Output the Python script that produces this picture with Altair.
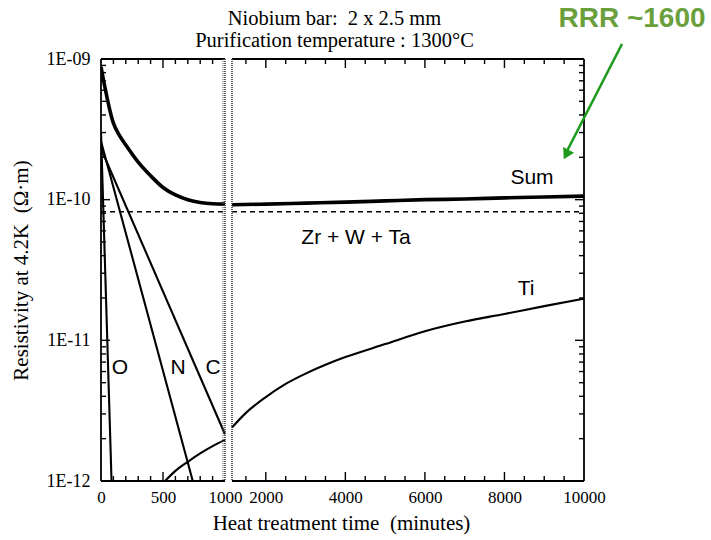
import altair as alt
import pandas as pd

# ---------------- data ----------------
sum_left_x = [0, 100, 150, 200, 300, 400, 500, 600, 700, 800, 900, 1000]
sum_left_y = [8.8e-10, 3.5e-10, 2.85e-10, 2.45e-10, 1.85e-10, 1.48e-10, 1.22e-10,
              1.08e-10, 1.0e-10, 9.55e-11, 9.35e-11, 9.3e-11]
sum_right_x = [1150, 2000, 3000, 4000, 5000, 6000, 7000, 8000, 9000, 10000]
sum_right_y = [9.2e-11, 9.3e-11, 9.45e-11, 9.6e-11, 9.8e-11, 1.0e-10, 1.01e-10,
               1.03e-10, 1.045e-10, 1.06e-10]

zr_left_x = [0, 1000]
zr_right_x = [1150, 10000]
zr_level = 8.2e-11

o_x = [0, 85]
o_y = [3.0e-10, 1e-12]
n_x = [0, 740]
n_y = [2.6e-10, 1e-12]
c_x = [0, 1000]
c_y = [2.3e-10, 2.15e-12]

ti_left_x = [516, 600, 700, 800, 900, 1000]
ti_left_y = [1e-12, 1.18e-12, 1.37e-12, 1.57e-12, 1.77e-12, 1.96e-12]
ti_right_x = [1150, 1500, 2000, 2500, 3000, 3500, 4000, 5000, 6000, 7000, 8000, 9000, 10000]
ti_right_y = [2.4e-12, 3.05e-12, 3.95e-12, 4.9e-12, 5.8e-12, 6.7e-12, 7.6e-12, 9.4e-12,
              1.16e-11, 1.36e-11, 1.54e-11, 1.75e-11, 1.98e-11]

x_label_values = [0, 500, 1000, 2000, 4000, 6000, 8000, 10000]
y_label_values = [1e-12, 1e-11, 1e-10, 1e-9]
y_label_texts = ["1E-12", "1E-11", "1E-10", "1E-09"]

x_minor_ticks = [100, 200, 300, 400, 600, 700, 800, 900,
                 1500, 2500, 3000, 3500, 4500, 5000, 5500, 6500, 7000, 7500,
                 8500, 9000, 9500]
x_major_ticks = [500, 2000, 4000, 6000, 8000]
y_major_ticks = [1e-11, 1e-10]
y_minor_ticks = [m * d for d in (1e-12, 1e-11, 1e-10) for m in (2, 3, 4, 5, 6, 7, 8, 9)]

title_lines = ["Niobium bar:\u00a0\u00a02 x 2.5 mm", "Purification temperature : 1300°C"]
x_title = "Heat treatment time\u00a0\u00a0(minutes)"
y_title = "Resistivity at 4.2K\u00a0\u00a0(Ω·m)"

# ---------------- build tables ----------------
rows = []
def add(series, seg, xs, ys):
    for a, b in zip(xs, ys):
        rows.append({"series": series, "seg": seg, "x": a, "y": b})

add("Sum", "Sum-L", sum_left_x, sum_left_y)
add("Sum", "Sum-R", sum_right_x, sum_right_y)
add("Zr", "Zr-L", zr_left_x, [zr_level] * len(zr_left_x))
add("Zr", "Zr-R", zr_right_x, [zr_level] * len(zr_right_x))
add("O", "O", o_x, o_y)
add("N", "N", n_x, n_y)
add("C", "C", c_x, c_y)
add("Ti", "Ti-L", ti_left_x, ti_left_y)
add("Ti", "Ti-R", ti_right_x, ti_right_y)
df = pd.DataFrame(rows)

W, H = 483, 422
GAP_L, GAP_R = 124, 131
SERIF = "Liberation Serif"
SANS = "Liberation Sans"

x_scale = alt.Scale(domain=[0, 1000, 1150, 10000], range=[0, GAP_L, GAP_R, W],
                    nice=False, zero=False)
y_scale = alt.Scale(type="log", domain=[1e-12, 1e-9], nice=False)

label_expr = ""
for v, t in zip(y_label_values[:-1], y_label_texts[:-1]):
    label_expr += f"datum.value < {v * 5:g} ? '{t}' : "
label_expr += f"'{y_label_texts[-1]}'"

x_axis = alt.Axis(values=x_label_values, format="d", ticks=False, domain=False, grid=False,
                  labelFont=SERIF, labelFontSize=17, labelColor="black",
                  labelPadding=8, labelOverlap=False, labelFlush=False,
                  title=x_title, titleFont=SERIF, titleFontSize=21,
                  titleFontWeight="normal", titleColor="black",
                  titleX=240, titleY=48, titleBaseline="alphabetic", titleAlign="center")
y_axis = alt.Axis(values=y_label_values, ticks=False, domain=False, grid=False,
                  labelExpr=label_expr, labelFont=SERIF, labelFontSize=18,
                  labelColor="black", labelPadding=11, labelFlush=False,
                  labelOverlap=False,
                  title=y_title, titleFont=SERIF, titleFontSize=21,
                  titleFontWeight="normal", titleColor="black",
                  titleX=-74, titleY=211, titleBaseline="alphabetic",
                  titleAlign="center", titleAngle=270)

base = alt.Chart(df)
X = alt.X("x:Q", scale=x_scale, axis=x_axis)
Y = alt.Y("y:Q", scale=y_scale, axis=y_axis)

sum_line = base.transform_filter(alt.datum.series == "Sum").mark_line(
    color="black", strokeWidth=3.6, clip=True, interpolate="monotone").encode(
    x=X, y=Y, detail="seg:N")
zr_line = base.transform_filter(alt.datum.series == "Zr").mark_line(
    color="black", strokeWidth=1.5, strokeDash=[5, 4], clip=True).encode(
    x=X, y=Y, detail="seg:N")
straight_lines = base.transform_filter(
    alt.FieldOneOfPredicate(field="series", oneOf=["O", "N", "C"])).mark_line(
    color="black", strokeWidth=2.1, clip=True).encode(x=X, y=Y, detail="seg:N")
ti_line = base.transform_filter(alt.datum.series == "Ti").mark_line(
    color="black", strokeWidth=2.1, clip=True, interpolate="monotone").encode(
    x=X, y=Y, detail="seg:N")

one = pd.DataFrame({"k": [0]})

def rule(**kw):
    sw = kw.pop("sw", 1.6)
    dash = kw.pop("dash", None)
    color = kw.pop("color", "black")
    mk = {"color": color, "strokeWidth": sw}
    if dash:
        mk["strokeDash"] = dash
    enc = {k: alt.value(v) for k, v in kw.items()}
    return alt.Chart(one).mark_rule(**mk).encode(**enc)

frame = [
    rule(x=0, y=0, y2=H, sw=1.8),
    rule(x=W, y=0, y2=H, sw=1.8),
    rule(x=0, x2=GAP_L, y=0, sw=1.8),
    rule(x=GAP_R, x2=W, y=0, sw=1.8),
    rule(x=0, x2=GAP_L, y=H, sw=1.8),
    rule(x=GAP_R, x2=W, y=H, sw=1.8),
    rule(x=GAP_L, y=0, y2=H, sw=1.6, dash=[1, 1], color="#333333"),
    rule(x=GAP_L - 2, y=0, y2=H, sw=1.0, dash=[1, 1], color="#555555"),
    rule(x=GAP_R, y=0, y2=H, sw=1.6, dash=[1, 1], color="#333333"),
]

def xticks(vals, length):
    d = pd.DataFrame({"x": vals})
    bottom = alt.Chart(d).mark_rule(color="black", strokeWidth=1.4).encode(
        x=X, y=alt.value(H), y2=alt.value(H - length))
    top = alt.Chart(d).mark_rule(color="black", strokeWidth=1.4).encode(
        x=X, y=alt.value(0), y2=alt.value(length))
    return [bottom, top]

def yticks(vals, length):
    d = pd.DataFrame({"y": vals})
    left = alt.Chart(d).mark_rule(color="black", strokeWidth=1.4).encode(
        y=Y, x=alt.value(0), x2=alt.value(length))
    right = alt.Chart(d).mark_rule(color="black", strokeWidth=1.4).encode(
        y=Y, x=alt.value(W), x2=alt.value(W - length))
    return [left, right]

ticks = (xticks(x_minor_ticks, 5) + xticks(x_major_ticks, 9)
         + yticks(y_minor_ticks, 5) + yticks(y_major_ticks, 9))

def text(t, x, y, size=21, font=SANS, weight="normal", color="black",
         align="center", baseline="middle"):
    return alt.Chart(one).mark_text(
        text=t, font=font, fontSize=size, fontWeight=weight, color=color,
        align=align, baseline=baseline).encode(x=alt.value(x), y=alt.value(y))

labels = [
    text("Sum", 431, 119),
    text("Zr + W + Ta", 255, 179),
    text("Ti", 425, 230),
    text("O", 19, 309),
    text("N", 77, 309),
    text("C", 112, 309),
    text(title_lines[0], 233.5, -34, size=20.5, font=SERIF, baseline="alphabetic"),
    text(title_lines[1], 233.5, -12, size=20.5, font=SERIF, baseline="alphabetic"),
    text("RRR ~1600", 531, -40, size=28, font=SANS, weight="bold", color="#6a9f3c"),
]

arrow = [
    rule(x=521, y=-15, x2=466, y2=92, sw=2.6, color="#1f9a1f"),
    alt.Chart(one).mark_point(shape="triangle", filled=True, size=150, angle=207,
                              color="#1f9a1f", opacity=1).encode(
        x=alt.value(466), y=alt.value(94)),
]

chart = alt.layer(sum_line, zr_line, straight_lines, ti_line, *frame, *ticks,
                  *labels, *arrow).properties(
    width=W, height=H,
    autosize=alt.AutoSizeParams(type="none"),
    padding={"left": 101, "top": 59, "right": 127, "bottom": 59},
    background="white",
).configure_view(stroke=None)

chart.save("out.html", embed_options={"renderer": "svg", "actions": False})
